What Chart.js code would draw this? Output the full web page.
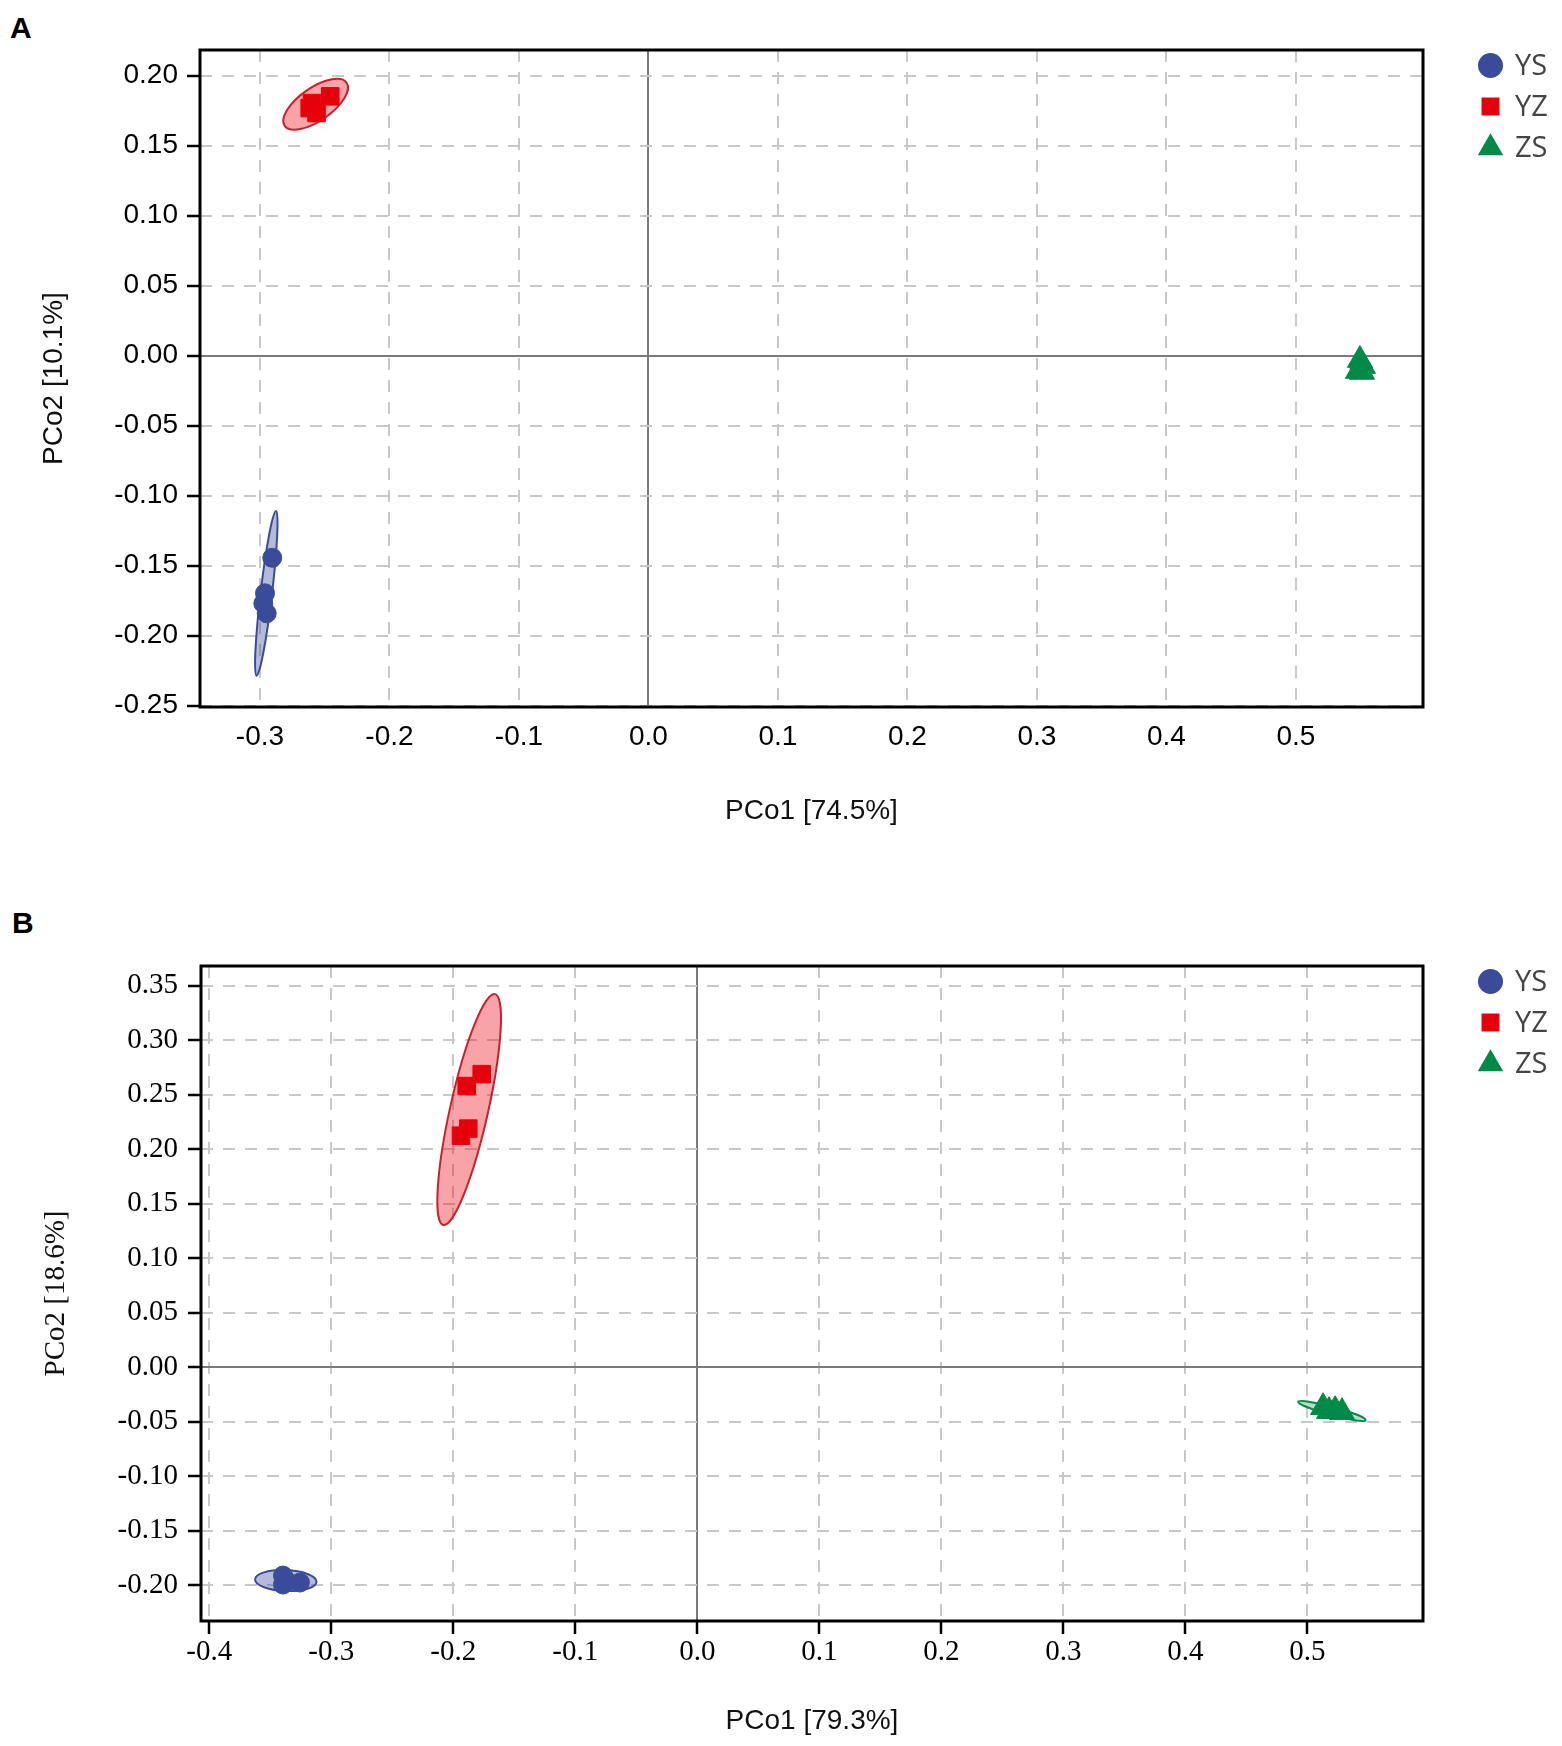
<!DOCTYPE html>
<html>
<head>
<meta charset="utf-8">
<title>PCoA</title>
<script src="https://cdn.jsdelivr.net/npm/chart.js@4.4.0/dist/chart.umd.min.js"></script>
<style>
  body { margin: 0; background: #fff; }
  #page { position: relative; width: 1562px; height: 1746px; }
  canvas { position: absolute; left: 0; }
  .tag { position: absolute; font: bold 30px "Liberation Sans", Arial, sans-serif; line-height: 1; color: #000; }
</style>
</head>
<body>
<div id="page">
  <div class="tag" style="left:10px; top:13px">A</div>
  <canvas id="chartA" style="top:0" width="1562" height="870"></canvas>
  <div class="tag" style="left:12px; top:908px">B</div>
  <canvas id="chartB" style="top:870px" width="1562" height="876"></canvas>
</div>
<script>
// group names
const groups = ["YS", "YZ", "ZS"];

// panel A: PCo1 [74.5%] vs PCo2 [10.1%]
const aYS_x = [-0.2905, -0.2961, -0.2974, -0.2948];
const aYS_y = [-0.1443, -0.1697, -0.1769, -0.1840];
const aYZ_x = [-0.2616, -0.2457, -0.2563, -0.2598];
const aYZ_y = [0.1769, 0.1853, 0.1734, 0.1805];
const aZS_x = [0.5494, 0.5517, 0.5479, 0.5510];
const aZS_y = [-0.0031, -0.0074, -0.0109, -0.0116];
// confidence ellipses: centre x, centre y, semi-axis 1 (dx, dy), semi-axis 2 (dx, dy)
const aYS_ell = [-0.2951, -0.1697, 0.0075, 0.0588, 0.0044, -0.0005];
const aYZ_ell = [-0.2570, 0.1796, 0.0239, 0.0154, 0.0073, -0.0096];
const aZS_ell = [0.5492, -0.0105, 0.0070, -0.0010, 0.0005, 0.0030];
const aTicksX = [-0.3, -0.2, -0.1, 0.0, 0.1, 0.2, 0.3, 0.4, 0.5];
const aTicksY = [-0.25, -0.20, -0.15, -0.10, -0.05, 0.00, 0.05, 0.10, 0.15, 0.20];
const aRangeX = [-0.3463, 0.5981];
const aRangeY = [-0.2509, 0.2184];

// panel B: PCo1 [79.3%] vs PCo2 [18.6%]
const bYS_x = [-0.3396, -0.3396, -0.3363, -0.3257];
const bYS_y = [-0.1911, -0.1994, -0.1966, -0.1975];
const bYZ_x = [-0.1890, -0.1767, -0.1937, -0.1877];
const bYZ_y = [0.2580, 0.2690, 0.2125, 0.2190];
const bZS_x = [0.5129, 0.5178, 0.5284, 0.5228];
const bZS_y = [-0.0367, -0.0403, -0.0412, -0.0394];
const bYS_ell = [-0.3373, -0.1957, 0.0252, -0.0010, 0.0000, 0.0096];
const bYZ_ell = [-0.1870, 0.2365, 0.0212, 0.1059, 0.0152, -0.0038];
const bZS_ell = [0.5201, -0.0401, 0.0276, -0.0084, 0.0008, 0.0036];
const bTicksX = [-0.4, -0.3, -0.2, -0.1, 0.0, 0.1, 0.2, 0.3, 0.4, 0.5];
const bTicksY = [-0.20, -0.15, -0.10, -0.05, 0.00, 0.05, 0.10, 0.15, 0.20, 0.25, 0.30, 0.35];
const bRangeX = [-0.4068, 0.5948];
const bRangeY = [-0.2328, 0.3682];

const SANS = '"Liberation Sans", Arial, sans-serif';
const SERIF = '"Liberation Serif", "Times New Roman", serif';

const colors = { YS: "#3a4c99", YZ: "#e6000b", ZS: "#008a47" };
const ellFill = { YS: "rgba(58,76,153,0.38)", YZ: "rgba(232,0,11,0.36)", ZS: "rgba(0,138,71,0.3)" };
const ellLine = { YS: "#3a4c99", YZ: "#c5222b", ZS: "#008a47" };
const shapes = { YS: "circle", YZ: "rect", ZS: "triangle" };
const radii = { YS: 9.5, YZ: 12.4, ZS: 14.5 };

function toPoints(xs, ys) {
  return xs.map(function(v, i) { return { x: v, y: ys[i] }; });
}

function makeDatasets(sets) {
  return groups.map(function(g, i) {
    return {
      label: g,
      data: toPoints(sets[i][0], sets[i][1]),
      ellipse: sets[i][2],
      ellipseFill: ellFill[g],
      ellipseLine: ellLine[g],
      pointStyle: shapes[g],
      pointRadius: radii[g],
      pointBackgroundColor: colors[g],
      pointBorderColor: colors[g],
      pointBorderWidth: 1,
      showLine: false
    };
  });
}

// draws the confidence ellipses under the points
const ellipsePlugin = {
  id: "ellipses",
  beforeDatasetsDraw(chart) {
    const ctx = chart.ctx, area = chart.chartArea;
    const sx = chart.scales.x, sy = chart.scales.y;
    ctx.save();
    ctx.beginPath();
    ctx.rect(area.left, area.top, area.right - area.left, area.bottom - area.top);
    ctx.clip();
    chart.data.datasets.forEach(function(ds) {
      const e = ds.ellipse;
      if (!e) return;
      const cx = sx.getPixelForValue(e[0]), cy = sy.getPixelForValue(e[1]);
      const ux = sx.getPixelForValue(e[0] + e[2]) - cx, uy = sy.getPixelForValue(e[1] + e[3]) - cy;
      const vx = sx.getPixelForValue(e[0] + e[4]) - cx, vy = sy.getPixelForValue(e[1] + e[5]) - cy;
      ctx.save();
      ctx.transform(ux, uy, vx, vy, cx, cy);
      ctx.beginPath();
      ctx.arc(0, 0, 1, 0, Math.PI * 2);
      ctx.restore();
      ctx.fillStyle = ds.ellipseFill;
      ctx.fill();
      ctx.lineWidth = 2;
      ctx.strokeStyle = ds.ellipseLine;
      ctx.stroke();
    });
    ctx.restore();
  }
};

// black frame round the plot area
const framePlugin = {
  id: "frame",
  afterDraw(chart) {
    const ctx = chart.ctx, a = chart.chartArea;
    ctx.save();
    ctx.strokeStyle = "#000";
    ctx.lineWidth = 3;
    ctx.strokeRect(a.left, a.top, a.right - a.left, a.bottom - a.top);
    ctx.restore();
  }
};

function drawMarker(ctx, style, x, y, r, color) {
  ctx.fillStyle = color;
  ctx.beginPath();
  if (style === "circle") {
    ctx.arc(x, y, r, 0, Math.PI * 2);
  } else if (style === "rect") {
    const s = r * Math.SQRT1_2;
    ctx.rect(x - s, y - s, 2 * s, 2 * s);
  } else {
    ctx.moveTo(x, y - r);
    ctx.lineTo(x + r * Math.sin(Math.PI * 2 / 3), y + r * 0.5);
    ctx.lineTo(x - r * Math.sin(Math.PI * 2 / 3), y + r * 0.5);
    ctx.closePath();
  }
  ctx.fill();
}

// legend to the right of the frame
const sideLegend = {
  id: "sideLegend",
  afterDraw(chart, args, opts) {
    const ctx = chart.ctx;
    const top = chart.chartArea.top;
    ctx.save();
    ctx.font = "29px 'Open Sans', 'Noto Sans', sans-serif";
    ctx.textBaseline = "middle";
    ctx.textAlign = "left";
    chart.data.datasets.forEach(function(ds, i) {
      const y = top + opts.rows[i];
      const r = { circle: 12.5, rect: 12.7, triangle: 14.7 }[ds.pointStyle];
      drawMarker(ctx, ds.pointStyle, opts.markerX, y, r, ds.pointBackgroundColor);
      ctx.fillStyle = "#444";
      ctx.fillText(ds.label, opts.textX, y + 1);
    });
    ctx.restore();
  }
};

function makeScale(o) {
  return {
    type: "linear",
    position: o.position,
    min: o.range[0],
    max: o.range[1],
    afterBuildTicks: function(scale) {
      scale.ticks = o.ticks.map(function(v) { return { value: v }; });
    },
    afterFit: function(scale) {
      if (o.position === "bottom") scale.height = o.size; else scale.width = o.size;
    },
    ticks: {
      autoSkip: false,
      maxRotation: 0,
      minRotation: 0,
      padding: o.pad,
      color: "#000",
      font: { family: o.tickFont, size: o.tickSize },
      callback: function(v) { return Number(v).toFixed(o.decimals); }
    },
    grid: {
      drawTicks: o.drawTicks,
      tickLength: 13,
      tickWidth: 2.5,
      tickColor: "#000",
      lineWidth: 2,
      color: function(c) { return c.tick && c.tick.value === 0 ? "#7a7a7a" : "#c8c8c8"; }
    },
    border: {
      display: false,
      dash: function(c) { return c.tick && c.tick.value === 0 ? [] : [12, 10]; }
    },
    title: {
      display: true,
      text: o.title,
      color: "#111",
      font: { family: o.titleFont, size: o.titleSize },
      padding: o.titlePad
    }
  };
}

function makeChart(id, datasets, xs, ys, padTop, legendRows) {
  return new Chart(document.getElementById(id), {
    type: "scatter",
    data: { datasets: datasets },
    options: {
      responsive: false,
      animation: false,
      events: [],
      layout: { padding: { top: padTop, right: 139, left: 0, bottom: 0 } },
      scales: { x: makeScale(xs), y: makeScale(ys) },
      plugins: {
        legend: { display: false },
        tooltip: { enabled: false },
        sideLegend: { markerX: 1490.5, textX: 1515, rows: legendRows }
      }
    },
    plugins: [ellipsePlugin, framePlugin, sideLegend]
  });
}

makeChart("chartA",
  makeDatasets([[aYS_x, aYS_y, aYS_ell], [aYZ_x, aYZ_y, aYZ_ell], [aZS_x, aZS_y, aZS_ell]]),
  { position: "bottom", range: aRangeX, ticks: aTicksX, decimals: 1, size: 163, pad: 13, drawTicks: false,
    tickFont: SANS, tickSize: 28, title: "PCo1 [74.5%]", titleFont: SANS, titleSize: 28,
    titlePad: { top: 0, bottom: 42 } },
  { position: "left", range: aRangeY, ticks: aTicksY, decimals: 2, size: 200, pad: 9, drawTicks: true,
    tickFont: SANS, tickSize: 28, title: "PCo2 [10.1%]", titleFont: SANS, titleSize: 28,
    titlePad: { top: 37, bottom: 0 } },
  50, [15.5, 56.5, 98]);

makeChart("chartB",
  makeDatasets([[bYS_x, bYS_y, bYS_ell], [bYZ_x, bYZ_y, bYZ_ell], [bZS_x, bZS_y, bZS_ell]]),
  { position: "bottom", range: bRangeX, ticks: bTicksX, decimals: 1, size: 125, pad: 1, drawTicks: true,
    tickFont: SERIF, tickSize: 29, title: "PCo1 [79.3%]", titleFont: SANS, titleSize: 28,
    titlePad: { top: 0, bottom: 8 } },
  { position: "left", range: bRangeY, ticks: bTicksY, decimals: 2, size: 201, pad: 10, drawTicks: true,
    tickFont: SERIF, tickSize: 29, title: "PCo2 [18.6%]", titleFont: SERIF, titleSize: 29,
    titlePad: { top: 39, bottom: 0 } },
  96, [15.5, 56.5, 98]);
</script>
</body>
</html>
